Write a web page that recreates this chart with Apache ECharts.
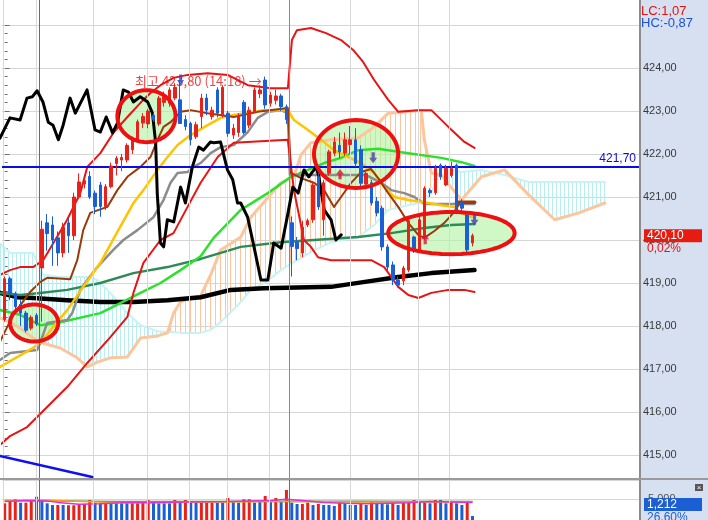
<!DOCTYPE html>
<html>
<head>
<meta charset="utf-8">
<script src="https://cdn.jsdelivr.net/npm/echarts@6/dist/echarts.min.js"></script>
<style>
html,body{margin:0;padding:0;background:#fff;}
#c{width:708px;height:520px;background:linear-gradient(to right,#ffffff 0,#ffffff 640px,#d6e0f0 640px,#d6e0f0 708px);}
</style>
</head>
<body>
<div id="c"></div>
<script>
// ---------------- DATA ----------------
const SLOTS = 120; // candle slots incl. 26-period cloud projection
const opens = [418.15,419.1,418.75,418.5,418.3,417.95,418.25,419.35,420.4,420.35,
 420.05,419.7,420.4,420.1,421.0,421.3,421.48,421.09,421.28,420.78,
 421.24,421.78,421.86,421.86,422.1,422.33,422.72,422.7,422.9,422.7,
 423.2,423.18,423.3,423.26,422.8,422.71,422.4,422.87,423.3,422.87,
 423.49,422.9,422.95,422.44,422.5,423.2,422.67,422.98,423.4,423.72,
 423.18,423.25,423.35,423.1,420.4,419.95,419.7,420.35,420.47,421.47,
 420.47,421.55,422.02,422.2,422.02,422.22,422.33,422.1,421.3,421.33,
 420.9,420.74,419.84,419.42,419.07,419.05,419.3,420.07,419.78,420.07,
 421.15,421.1,421.74,421.28,421.5,421.74,420.88,420.58,419.93];
const closes = [419.1,418.75,418.45,418.3,417.9,418.2,418.05,420.25,420.15,420.0,
 419.7,420.3,420.1,421.0,421.35,421.38,421.0,420.78,420.78,421.24,
 421.72,421.9,421.92,422.2,422.33,422.75,422.87,423.0,422.8,423.3,
 423.33,423.49,423.55,422.71,422.64,422.33,422.68,423.3,423.02,423.02,
 422.95,423.55,422.48,422.6,422.87,422.5,423.02,423.49,423.49,423.14,
 423.37,423.35,423.1,422.8,419.85,419.8,420.3,420.45,421.28,420.77,
 421.33,422.05,422.28,422.05,422.33,422.33,421.78,421.32,421.55,420.86,
 420.63,419.84,419.37,419.07,418.95,419.35,420.45,419.78,420.47,421.2,
 421.1,421.67,421.47,421.67,421.67,420.65,420.74,419.77,420.1];
const lows = [418.1,418.6,418.35,418.0,417.85,417.9,418.0,418.1,419.75,419.4,
 419.4,419.6,419.7,420.0,420.95,421.2,420.95,420.6,420.54,420.7,
 421.2,421.5,421.6,421.8,422.0,422.3,422.6,422.6,422.75,422.65,
 423.1,423.1,423.25,422.7,422.55,422.2,422.35,422.6,422.9,422.8,
 422.85,422.85,422.4,422.35,422.4,422.45,422.6,422.95,423.3,423.05,
 423.1,423.15,423.0,422.7,419.15,419.53,419.6,420.3,420.4,420.7,
 420.1,421.5,421.95,421.9,421.95,422.0,421.7,421.25,421.25,420.8,
 420.55,419.75,419.3,418.95,418.9,418.95,419.25,419.7,419.7,420.0,
 421.0,421.05,421.4,421.25,421.45,420.6,420.6,419.7,419.85];
const highs = [419.15,419.15,418.8,418.6,418.35,418.25,418.3,420.45,420.6,420.55,
 420.2,420.4,420.5,421.1,421.55,421.45,421.6,421.15,421.35,421.3,
 421.8,421.95,422.0,422.25,422.4,422.8,422.95,423.05,422.95,423.35,
 423.45,423.55,423.65,423.7,422.9,422.75,422.75,423.4,423.4,423.1,
 423.55,423.6,423.0,422.7,422.95,423.25,423.1,423.55,423.6,423.8,
 423.45,423.5,423.4,423.15,420.55,420.07,420.45,420.5,421.35,421.55,
 421.4,422.1,422.4,422.5,422.5,422.65,422.6,422.2,421.6,421.4,
 421.0,420.8,419.9,419.5,419.15,419.4,420.5,420.1,420.55,421.25,
 421.2,421.75,421.78,421.75,421.82,421.78,420.95,420.6,420.15];
const volumes = [4090,4840,5000,4230,4230,4690,5590,4610,4090,3700,
 3700,3700,3640,3640,3930,3930,4840,4230,4090,4230,
 4390,4090,4090,4090,4090,4090,4610,4840,4230,4090,
 4090,4090,4840,4230,4840,4610,4230,4230,4230,4230,
 4230,4230,5295,4460,4230,5000,5000,4230,4610,5750,
 4460,5295,4610,7114,4230,3930,3930,4230,3700,3930,
 3700,3700,3480,4230,3930,3700,3700,3930,3700,4610,
 4230,4230,3860,4230,3700,4230,4230,4840,4610,4610,
 4090,4840,4840,4090,4610,4090,3700,4610,1212];
const volUp = [1,1,1,0,1,1,1,0,0,0, 1,0,1,1,1,1,1,0,0,1, 0,0,0,0,1,1,1,1,0,0,
 0,0,1,0,1,0,0,1,1,1, 0,0,1,0,0,1,1,0,0,1, 0,1,0,1,0,0,1,1,0,1,
 0,0,0,1,0,0,0,1,0,1, 0,0,0,1,0,1,1,1,0,1, 0,1,0,0,1,0,0,1,0];

// indicator lines: [time index, price]
const upperBB = [[-0.88,419.19],[1.01,419.30],[2.9,419.37],[5.35,419.37],[7.24,419.53],[11.76,420.47],[14.22,421.09],[15.54,421.70],[18.0,422.02],[20.44,422.49],[23.08,422.86],[25.54,423.19],[27.42,423.42],[29.31,423.60],[31.76,423.77],[34.4,423.84],[38.18,423.88],[41.95,423.84],[45.73,423.60],[50.07,423.53],[53.27,423.53],[54.03,424.65],[54.97,424.88],[57.61,424.93],[60.44,424.81],[63.27,424.65],[65.54,424.42],[67.42,424.14],[69.5,423.72],[72.14,423.26],[74.03,422.98],[77.8,423.02],[80.25,423.02],[83.46,422.63],[86.48,422.28],[88.37,422.14]];
const lowerBB = [[-0.88,415.23],[1.01,415.44],[4.22,415.65],[11.76,416.58],[15.54,417.14],[19.88,417.74],[23.08,418.21],[24.22,418.77],[26.1,419.47],[29.31,420.0],[31.76,420.16],[34.4,420.77],[36.86,421.33],[40.07,421.93],[43.09,422.26],[53.27,422.33],[54.41,421.16],[55.16,420.70],[56.29,420.0],[57.61,419.84],[58.93,419.60],[61.39,419.53],[68.93,419.53],[71.39,419.37],[72.71,419.14],[74.03,418.91],[75.92,418.72],[77.8,418.65],[80.25,418.77],[83.46,418.84],[86.48,418.84],[88.37,418.79]];
const brownLine = [[-0.88,417.63],[1.58,418.26],[4.78,418.79],[6.67,419.02],[7.99,419.12],[12.33,419.09],[13.65,419.53],[14.78,420.23],[16.1,420.63],[19.31,420.77],[21.2,421.16],[23.08,421.47],[25.54,421.70],[27.42,421.93],[28.75,422.33],[29.88,422.63],[31.2,422.74],[33.08,422.98],[34.97,423.02],[38.18,422.95],[43.09,422.86],[47.61,422.98],[53.27,423.07],[53.84,421.56],[55.73,421.44],[58.18,421.33],[60.07,421.16],[61.95,420.77],[63.27,421.0],[65.16,421.33],[67.05,421.58],[68.93,421.65],[70.25,421.44],[72.14,421.09],[74.03,420.77],[75.92,420.40],[77.8,420.12],[78.93,420.05],[80.82,420.21],[82.71,420.40],[84.4,420.63],[85.54,420.84]];
const brownLevel = [[85.0,420.88],[88.4,420.88]];
const goldLine = [[-0.88,417.05],[5.35,417.49],[7.24,417.67],[9.12,417.98],[11.76,418.37],[14.78,418.91],[18.0,419.47],[21.2,420.19],[24.22,420.86],[26.1,421.16],[28.75,421.63],[30.63,421.93],[32.52,422.21],[34.97,422.44],[38.18,422.67],[40.63,422.84],[43.09,422.91],[48.74,423.02],[53.27,423.02],[54.41,422.79],[57.05,422.56],[59.5,422.33],[61.95,422.09],[64.59,421.93],[67.05,421.79],[69.5,421.56],[71.39,421.23],[73.27,421.0],[75.92,420.93],[78.93,420.88],[82.14,420.81],[84.6,420.77],[85.91,420.63],[87.8,420.53]];
const grayLine = [[-0.88,417.21],[1.01,417.37],[6.1,417.44],[6.67,417.60],[7.99,418.07],[11.76,418.14],[12.71,418.30],[14.22,418.84],[15.54,419.07],[17.42,419.37],[20.44,419.77],[22.33,420.0],[24.97,420.23],[27.99,420.53],[29.88,420.93],[31.2,421.33],[32.52,421.56],[34.4,421.58],[35.54,421.70],[36.86,421.79],[38.74,422.02],[40.63,422.16],[43.09,422.21],[45.73,422.51],[47.61,422.84],[49.5,422.98],[51.95,423.02],[53.27,422.95],[53.65,421.51],[67.99,421.51],[70.82,421.33],[72.71,421.16],[75.16,421.09],[77.05,421.0],[78.93,420.84],[88.37,420.84]];
const greenLine = [[-0.88,418.37],[2.9,418.26],[6.67,418.02],[9.88,418.07],[12.33,418.14],[18.0,418.30],[21.76,418.53],[25.54,418.77],[29.31,419.0],[33.08,419.30],[36.86,419.62],[39.31,420.05],[44.41,420.70],[49.5,421.09],[53.84,421.47],[57.05,421.63],[60.07,421.79],[63.27,421.91],[66.48,422.09],[70.25,422.12],[75.92,422.02],[82.14,421.91],[85.91,421.81],[88.37,421.72]];
const seaGreenLine = [[-0.88,418.77],[2.9,418.72],[6.67,418.77],[11.76,418.84],[18.0,419.0],[24.22,419.23],[30.63,419.37],[36.86,419.56],[44.41,419.84],[51.95,419.95],[58.18,420.0],[66.48,420.07],[72.71,420.16],[78.93,420.28],[84.0,420.35],[88.37,420.37]];
const longMA = [[-0.88,418.77],[2.33,418.67],[5.35,418.65],[11.76,418.60],[18.0,418.56],[24.22,418.56],[30.63,418.60],[36.86,418.67],[42.52,418.84],[48.74,418.88],[61.39,418.91],[67.42,419.02],[74.03,419.14],[80.25,419.23],[88.37,419.30]];
const blackOsc = [[-0.88,422.37],[1.0,422.84],[2.9,422.79],[4.2,423.30],[5.2,423.33],[6.1,423.47],[7.2,423.21],[8.2,422.74],[9.1,422.67],[10.1,422.33],[11.0,422.67],[12.3,423.30],[13.3,422.95],[15.5,423.49],[17.0,422.56],[18.0,422.51],[19.1,422.86],[20.3,422.49],[21.2,422.72],[22.3,423.49],[23.3,423.44],[24.2,423.21],[25.5,423.33],[26.9,423.21],[27.8,422.95],[28.4,422.26],[28.7,421.09],[29.3,419.93],[29.9,419.84],[30.6,420.47],[31.8,420.42],[33.1,421.23],[34.0,420.86],[35.3,421.70],[36.5,422.16],[37.4,422.09],[38.7,422.28],[39.3,422.26],[40.6,422.28],[41.9,421.63],[42.9,421.40],[43.8,420.86],[44.4,420.86],[45.7,420.53],[46.9,419.84],[48.2,419.07],[49.5,419.07],[50.6,419.93],[52.0,419.81],[53.3,420.63],[54.2,421.23],[55.2,421.09],[56.3,421.63],[57.2,421.47],[58.6,421.70],[59.1,421.47],[60.1,420.70],[61.4,420.47],[62.3,420.0],[63.3,420.12]];
const trendLine = [[-0.88,414.98],[16.47,414.49]];

// ichimoku cloud (shared time indices)
const cloudK = [-0.9,1.0,2.9,5.35,7.24,10.44,13.65,15.54,17.42,19.88,23.08,25.54,28.75,30.63,31.76,33.08,36.86,38.74,40.63,44.41,46.29,49.12,51.95,54.41,55.73,57.61,61.39,66.48,69.5,72.14,78.37,78.93,80.25,82.14,85.91,89.69,94.03,98.56,103.46,107.99,112.9];
const spanA = [419.93,419.70,419.70,419.70,419.19,419.14,419.14,419.14,419.07,418.77,418.30,418.02,417.88,417.86,417.86,417.84,417.84,417.91,418.09,418.56,418.84,419.02,419.30,419.49,419.58,419.72,419.95,420.07,420.35,420.70,420.88,420.93,421.09,421.67,421.58,421.63,421.51,421.35,421.35,421.35,421.35];
const spanB = [418.19,418.09,417.95,417.72,417.60,417.49,417.26,417.05,417.16,417.26,417.28,417.72,417.77,417.84,418.30,418.56,418.70,419.19,419.77,420.07,420.53,420.93,421.33,421.47,421.98,422.26,422.33,422.37,422.63,422.95,423.02,422.33,421.56,421.51,420.93,421.47,421.63,421.05,420.47,420.63,420.86];

// annotations
const ellipses = [[5.54,418.07,4.53,0.43],[26.67,422.88,5.47,0.605],[66.1,422.0,7.92,0.79],[84.03,420.16,11.89,0.49]]; // [t, price, rT, rPrice]
const buySignals = [[63.08,421.53],[79.1,420.02]];
const sellSignals = [[69.31,421.91],[88.37,420.47]];
const highMark = [[33.08,423.72]];
const highIndex = 49, highValue = 423.80, highTime = '14:18';
const refLevel = 421.70;
const timeGridK = [-0.31,5.92,16.67,26.86,34.78,41.95,49.69,64.97,77.8,83.65];
const sessionK = [6.5,53.5];
const volMaMagenta = [[0,4500],[4,4700],[8,4600],[10,4300],[14,3900],[18,4000],[22,4200],[28,4200],[34,4400],[42,4500],[46,4600],[50,4700],[53,5000],[56,4700],[60,4300],[64,4100],[68,4000],[72,4100],[76,4200],[80,4500],[84,4400],[88,4300]];
const volMaOrange = [[0,4600],[6,4900],[12,4600],[20,4300],[30,4300],[40,4400],[50,4500],[58,4500],[66,4400],[76,4400],[88,4400]];
const volMaOlive = [[0,4700],[20,4500],[44,4500],[66,4550],[88,4500]];
const yTicks = {min:415, max:425, step:1};
const volAxis = {min:0, max:9386, step:5000};
const lcText = 'LC:1,07', hcText = 'HC:-0,87', changePct = '0,02%', volPct = '26,60%';

// ---------------- BUILD ----------------
const RED = '#e8221a', BLUE = '#1b5fd6';
const fmt2 = v => v.toFixed(2).replace('.', ',');
const fmtInt = v => String(Math.round(v)).replace(/\B(?=(\d{3})+(?!\d))/g, ',');
const slotLabels = Array.from({length: SLOTS}, (_, i) => String(i));
const candleData = opens.map((o, i) => [o, closes[i], lows[i], highs[i]]);
const volData = volumes.map((v, i) => ({value: v, itemStyle: {color: volUp[i] ? RED : BLUE}}));
const lastClose = closes[closes.length - 1];
const lastVol = volumes[volumes.length - 1];
const cloudData = cloudK.map((k, i) => [k, spanA[i], spanB[i]]);

const L = (data, color, width, z, extra) => Object.assign({
  type: 'line', xAxisIndex: 1, yAxisIndex: 0, data, symbol: 'none', showSymbol: false,
  clip: false, silent: true, animation: false, z,
  lineStyle: {color, width, cap: 'round', join: 'round'}
}, extra || {});

// vertical hatch between the two cloud spans
function cloudHatch(params, api) {
  const i = params.dataIndex;
  if (i >= cloudData.length - 1) return null;
  const a0 = api.coord([cloudData[i][0], cloudData[i][1]]), a1 = api.coord([cloudData[i + 1][0], cloudData[i + 1][1]]);
  const b0 = api.coord([cloudData[i][0], cloudData[i][2]]), b1 = api.coord([cloudData[i + 1][0], cloudData[i + 1][2]]);
  const x0 = a0[0], x1 = a1[0];
  const children = [];
  for (let x = Math.ceil(x0); x < x1; x++) {
    const t = (x - x0) / (x1 - x0);
    const ya = a0[1] + t * (a1[1] - a0[1]);
    const yb = b0[1] + t * (b1[1] - b0[1]);
    const aTop = ya < yb;
    const step = aTop ? 4 : 5;
    if (x % step !== 0) continue;
    children.push({type: 'line', shape: {x1: x + 0.5, y1: ya, x2: x + 0.5, y2: yb},
      style: {stroke: aTop ? '#b8eef2' : '#ffc49c', lineWidth: 1}});
  }
  return {type: 'group', children};
}

function ellipseSeries(fill, stroke, lw, z) {
  return {type: 'custom', xAxisIndex: 1, yAxisIndex: 0, data: ellipses, silent: true, animation: false, z, clip: false,
    renderItem: (params, api) => {
      const c = api.coord([api.value(0), api.value(1)]);
      const e = api.coord([api.value(0) + api.value(2), api.value(1) + api.value(3)]);
      const rx = Math.abs(e[0] - c[0]), ry = Math.abs(e[1] - c[1]);
      const pts = [];
      for (let t = 0; t < 80; t++) { const a = t / 80 * Math.PI * 2; pts.push([c[0] + rx * Math.cos(a), c[1] + ry * Math.sin(a)]); }
      return {type: 'polygon', shape: {points: pts}, style: {fill, stroke, lineWidth: lw}};
    }};
}
function vLines(list, color) { return list.map(k => ({xAxis: k, lineStyle: {color, width: 1, type: 'solid'}})); }

const chart = echarts.init(document.getElementById('c'), null, {renderer: 'canvas', width: 708, height: 520});
const option = {
  animation: false,
  backgroundColor: 'transparent',
  grid: [
    {left: 2, top: 25, width: 638, height: 430, containLabel: false, outerBoundsMode: 'none'},
    {left: 2, top: 480, width: 638, height: 41.3, containLabel: false, outerBoundsMode: 'none'},
    {left: 2, top: 0, width: 638, height: 479, containLabel: false, outerBoundsMode: 'none'}
  ],
  xAxis: [
    {type: 'category', gridIndex: 0, data: slotLabels, show: false, boundaryGap: true},
    {type: 'value', gridIndex: 0, min: -0.5, max: SLOTS - 0.5, show: false},
    {type: 'category', gridIndex: 1, data: slotLabels, show: false, boundaryGap: true},
    {type: 'value', gridIndex: 1, min: -0.5, max: SLOTS - 0.5, show: false},
    {type: 'value', gridIndex: 2, min: -0.5, max: SLOTS - 0.5, show: false}
  ],
  yAxis: [
    {type: 'value', gridIndex: 0, position: 'right', min: yTicks.min, max: yTicks.max, interval: yTicks.step,
      axisLine: {show: false},
      axisTick: {show: true, length: 5, lineStyle: {color: '#707070'}},
      minorTick: {show: true, splitNumber: 5, length: 3, lineStyle: {color: '#707070'}},
      axisLabel: {color: '#3a3a3a', fontFamily: 'Liberation Sans', fontSize: 11, margin: 3, formatter: v => (v >= yTicks.max ? '' : fmt2(v))},
      splitLine: {show: true, lineStyle: {color: '#d6d6d6', width: 1}},
      minorSplitLine: {show: false}},
    {type: 'value', gridIndex: 1, position: 'right', min: volAxis.min, max: volAxis.max, interval: volAxis.step,
      axisLine: {show: false}, axisTick: {show: false},
      axisLabel: {color: '#505050', fontFamily: 'Liberation Sans', fontSize: 11, margin: 8, formatter: v => (v === volAxis.step ? fmtInt(v) : '')},
      splitLine: {show: true, lineStyle: {color: '#d6d6d6', width: 1}}},
    {type: 'value', gridIndex: 2, min: 0, max: 1, show: false}
  ],
  series: [
    // full-height time grid lines
    {type: 'line', xAxisIndex: 4, yAxisIndex: 2, data: [[-50, -50]], symbol: 'none', lineStyle: {width: 0}, silent: true, z: 0,
      markLine: {silent: true, symbol: 'none', animation: false, label: {show: false},
        data: vLines(timeGridK, '#d8d8d8').concat([{xAxis: sessionK[0], lineStyle: {color: '#e03a3a', width: 1, type: 'solid'}}, {xAxis: sessionK[1], lineStyle: {color: '#8a8a8a', width: 1, type: 'solid'}}])}},
    {type: 'line', xAxisIndex: 3, yAxisIndex: 1, data: [[-50, -50]], symbol: 'none', lineStyle: {width: 0}, silent: true, z: 0,
      markLine: {silent: true, symbol: 'none', animation: false, label: {show: false},
        data: vLines(timeGridK, '#d8d8d8').concat(vLines(sessionK, '#e03a3a'))}},
    // cloud hatch
    {type: 'custom', xAxisIndex: 1, yAxisIndex: 0, data: cloudData, renderItem: cloudHatch, silent: true, animation: false, z: 1, clip: false},
    ellipseSeries('rgba(175,243,160,0.6)', 'rgba(0,0,0,0)', 0, 2),
    L(cloudData.map(d => [d[0], d[1]]), '#c4f4f6', 2, 3),
    L(cloudData.map(d => [d[0], d[2]]), '#fdc59c', 3, 3),
    L(longMA, '#000000', 4.5, 3),
    L(seaGreenLine, '#2e8b57', 2.5, 4),
    L(greenLine, '#2ee02e', 2.5, 4),
    L(grayLine, '#8c8c8c', 2.5, 4),
    L(goldLine, '#ffc400', 2.5, 4),
    L(brownLine, '#9a3a08', 2, 4),
    L(brownLevel, '#9a3a08', 3.5, 4),
    L(upperBB, '#e81414', 2, 4),
    L(lowerBB, '#e81414', 2, 4),
    L(blackOsc, '#000000', 3, 5),
    L(trendLine, '#1010ee', 2.5, 5),
    {type: 'candlestick', xAxisIndex: 0, yAxisIndex: 0, data: candleData, barWidth: 3, silent: true, animation: false, z: 6,
      itemStyle: {color: RED, color0: BLUE, borderColor: RED, borderColor0: BLUE, borderWidth: 1},
      markLine: {silent: true, symbol: 'none', animation: false, data: [{yAxis: refLevel}],
        lineStyle: {color: '#0a0aee', width: 2, type: 'solid'},
        label: {show: true, position: 'insideEndTop', formatter: fmt2(refLevel), color: '#0a0aee', fontFamily: 'Liberation Sans', fontSize: 12, distance: [4, 2]}}},
    ellipseSeries('rgba(0,0,0,0)', '#ee1010', 4, 7),
    {type: 'scatter', xAxisIndex: 1, yAxisIndex: 0, data: [[highIndex, highValue]], symbolSize: 1, itemStyle: {color: 'rgba(0,0,0,0)'}, silent: true, z: 10,
      label: {show: true, position: 'left', distance: 3, offset: [0, 4], formatter: '최고 ' + fmt2(highValue) + ' (' + highTime + ') →',
        color: '#e81414', fontSize: 13, fontFamily: 'Noto Sans CJK KR'}},
    {type: 'scatter', xAxisIndex: 1, yAxisIndex: 0, data: buySignals, symbol: 'path://M5,0L10,5L7,5L7,10L3,10L3,5L0,5Z', symbolSize: [8, 10], itemStyle: {color: '#e2103e'}, silent: true, z: 12},
    {type: 'scatter', xAxisIndex: 1, yAxisIndex: 0, data: sellSignals, symbol: 'path://M3,0L7,0L7,5L10,5L5,10L0,5L3,5Z', symbolSize: [8, 11], itemStyle: {color: '#4a3aa6'}, silent: true, z: 12},
    {type: 'scatter', xAxisIndex: 1, yAxisIndex: 0, data: highMark, symbol: 'path://M3,0L7,0L7,5L10,5L5,10L0,5L3,5Z', symbolSize: [7, 11], itemStyle: {color: '#1f4fd6'}, silent: true, z: 12},
    // volume
    {type: 'bar', xAxisIndex: 2, yAxisIndex: 1, data: volData, barWidth: 3, silent: true, animation: false, z: 3},
    {type: 'line', xAxisIndex: 3, yAxisIndex: 1, data: volMaOlive, symbol: 'none', silent: true, z: 4, lineStyle: {color: '#6e8a5a', width: 1.5}},
    {type: 'line', xAxisIndex: 3, yAxisIndex: 1, data: volMaOrange, symbol: 'none', silent: true, z: 4, lineStyle: {color: '#f0a418', width: 1.5}},
    {type: 'line', xAxisIndex: 3, yAxisIndex: 1, data: volMaMagenta, symbol: 'none', silent: true, z: 4, lineStyle: {color: '#e030d0', width: 1.5}}
  ]
};
chart.setOption(option);

const yLast = chart.convertToPixel({yAxisIndex: 0}, lastClose);
chart.setOption({graphic: [
  {id: 'axl', type: 'rect', shape: {x: 639, y: 0, width: 2, height: 520}, style: {fill: '#8c8c8c'}, z: 50, silent: true},
  {id: 'sep', type: 'rect', shape: {x: 0, y: 478, width: 708, height: 2}, style: {fill: '#9a9a9a'}, z: 50, silent: true},
  {id: 'lc', type: 'text', x: 641, y: 11, style: {text: lcText, fill: '#e41010', fontSize: 13, fontFamily: 'Liberation Sans', verticalAlign: 'middle'}, z: 50, silent: true},
  {id: 'hc', type: 'text', x: 641, y: 23, style: {text: hcText, fill: '#1a52d4', fontSize: 13, fontFamily: 'Liberation Sans', verticalAlign: 'middle'}, z: 50, silent: true},
  {id: 'pbox', type: 'rect', shape: {x: 644, y: yLast - 6.5, width: 58, height: 13}, style: {fill: '#e61c10'}, z: 50, silent: true},
  {id: 'ptxt', type: 'text', x: 647, y: yLast, style: {text: fmt2(lastClose), fill: '#ffffff', fontSize: 12, fontFamily: 'Liberation Sans', verticalAlign: 'middle'}, z: 51, silent: true},
  {id: 'pct', type: 'text', x: 647, y: yLast + 12.5, style: {text: changePct, fill: '#e41010', fontSize: 12, fontFamily: 'Liberation Sans', verticalAlign: 'middle'}, z: 51, silent: true},
  {id: 'icon', type: 'rect', shape: {x: 695, y: 484, width: 8, height: 7}, style: {fill: '#555555'}, z: 50, silent: true},
  {id: 'iconx', type: 'text', x: 699, y: 487.5, style: {text: '×', fill: '#ffffff', fontSize: 8, align: 'center', verticalAlign: 'middle'}, z: 51, silent: true},
  {id: 'vbox', type: 'rect', shape: {x: 644, y: 498, width: 58, height: 13}, style: {fill: '#1c5ed4'}, z: 50, silent: true},
  {id: 'vtxt', type: 'text', x: 647, y: 504.5, style: {text: fmtInt(lastVol), fill: '#ffffff', fontSize: 12, fontFamily: 'Liberation Sans', verticalAlign: 'middle'}, z: 51, silent: true},
  {id: 'vpct', type: 'text', x: 647, y: 517.5, style: {text: volPct, fill: '#1c5ed4', fontSize: 12, fontFamily: 'Liberation Sans', verticalAlign: 'middle'}, z: 51, silent: true}
]});
</script>
</body>
</html>
